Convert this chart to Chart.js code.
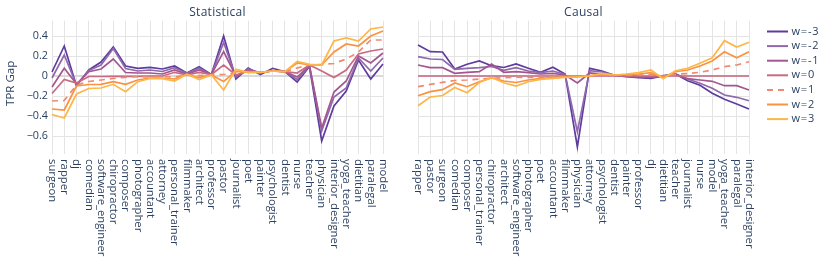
<!DOCTYPE html>
<html><head><meta charset="utf-8">
<script src="https://cdn.jsdelivr.net/npm/chart.js@4/dist/chart.umd.min.js"></script>
<style>
html,body{margin:0;padding:0;background:#fff;}
#wrap{position:relative;width:830px;height:259px;overflow:hidden;}
canvas{position:absolute;left:0;top:0;}
</style></head><body>
<div id="wrap"><canvas id="c1" width="830" height="259"></canvas><canvas id="c2" width="830" height="259"></canvas></div>
<script>
// ---------- data ----------
const statCategories = ['surgeon','rapper','dj','comedian','software_engineer','chiropractor','composer','photographer','accountant','attorney','personal_trainer','filmmaker','architect','professor','pastor','journalist','poet','painter','psychologist','dentist','nurse','teacher','physician','interior_designer','yoga_teacher','dietitian','paralegal','model'];
const causalCategories = ['rapper','pastor','surgeon','comedian','composer','personal_trainer','chiropractor','architect','software_engineer','photographer','poet','accountant','filmmaker','physician','attorney','psychologist','dentist','painter','professor','dj','dietitian','teacher','journalist','nurse','model','yoga_teacher','paralegal','interior_designer'];
const seriesNames = ['w=-3','w=-2','w=-1','w=0','w=1','w=2','w=3'];
const yTickValues = [-0.6,-0.4,-0.2,0,0.2,0.4];

const statWm3 = [0.04,0.30,-0.10,0.06,0.14,0.29,0.10,0.077,0.087,0.07,0.10,0.03,0.093,0.015,0.40,-0.03,0.08,0.015,0.077,0.043,-0.06,0.095,-0.65,-0.30,-0.15,0.16,-0.03,0.12];
const statWm2 = [-0.02,0.21,-0.09,0.055,0.11,0.275,0.075,0.05,0.06,0.045,0.083,0.027,0.077,0.015,0.335,-0.01,0.07,0.03,0.055,0.043,-0.035,0.10,-0.55,-0.21,-0.12,0.18,0.05,0.18];
const statWm1 = [-0.11,0.077,-0.08,0.043,0.07,0.17,0.035,0.03,0.03,0.02,0.06,0.017,0.06,0.015,0.243,0.0,0.06,0.035,0.05,0.043,-0.01,0.105,-0.52,-0.16,-0.05,0.20,0.13,0.23];
const statW0  = [-0.175,-0.035,-0.07,-0.005,-0.005,-0.003,-0.003,-0.003,0.0,0.0,0.037,0.01,0.037,0.015,0.11,0.01,0.05,0.037,0.05,0.043,0.03,0.11,0.05,-0.015,0.06,0.22,0.25,0.27];
const statW1  = [-0.25,-0.245,-0.09,-0.055,-0.04,-0.025,-0.013,-0.007,-0.01,-0.005,-0.01,0.01,0.003,0.01,0.015,0.03,0.043,0.037,0.05,0.043,0.08,0.11,0.115,0.125,0.17,0.24,0.36,0.36];
const statW2  = [-0.33,-0.34,-0.10,-0.085,-0.083,-0.057,-0.083,-0.04,-0.02,-0.02,-0.03,0.015,-0.017,0.01,-0.055,0.047,0.037,0.037,0.05,0.043,0.13,0.11,0.11,0.24,0.32,0.30,0.40,0.45];
const statW3  = [-0.385,-0.42,-0.18,-0.125,-0.12,-0.083,-0.157,-0.057,-0.025,-0.027,-0.05,0.017,-0.035,0.01,-0.14,0.067,0.037,0.037,0.05,0.043,0.145,0.117,0.11,0.35,0.38,0.35,0.47,0.49];

const causWm3 = [0.31,0.243,0.24,0.07,0.117,0.15,0.103,0.085,0.12,0.077,0.037,0.087,0.02,-0.71,0.077,0.05,0.007,-0.007,-0.017,-0.023,0.0,0.02,-0.047,-0.093,-0.173,-0.233,-0.28,-0.33];
const causWm2 = [0.193,0.17,0.165,0.067,0.077,0.083,0.095,0.057,0.083,0.05,0.033,0.05,0.015,-0.557,0.053,0.04,0.01,-0.003,-0.01,-0.015,0.0,0.02,-0.03,-0.073,-0.123,-0.19,-0.213,-0.247];
const causWm1 = [0.11,0.083,0.083,0.027,0.037,0.043,0.12,0.037,0.043,0.033,0.02,0.027,0.01,-0.07,0.03,0.02,0.01,0.0,-0.005,-0.01,0.003,0.015,-0.027,-0.04,-0.053,-0.097,-0.097,-0.14];
const causW0  = [0,0,0,0,0,0,0,0,0,0,0,0,0,0,0,0,0,0,0,0,0,0,0,0,0,0,0,0];
const causW1  = [-0.107,-0.083,-0.063,-0.045,-0.04,-0.03,-0.022,-0.018,-0.012,-0.015,-0.012,-0.008,-0.005,-0.003,0.003,0.008,0.01,0.007,0.01,0.015,-0.003,0.017,0.025,0.037,0.06,0.093,0.11,0.143];
const causW2  = [-0.197,-0.157,-0.137,-0.07,-0.107,-0.057,-0.02,-0.05,-0.065,-0.04,-0.023,-0.017,-0.01,-0.007,0.003,0.013,0.01,0.013,0.02,0.033,-0.013,0.043,0.06,0.10,0.15,0.243,0.183,0.243];
const causW3  = [-0.297,-0.21,-0.195,-0.115,-0.167,-0.065,-0.015,-0.067,-0.1,-0.057,-0.033,-0.023,-0.013,-0.01,0.0,0.027,0.01,0.02,0.033,0.06,-0.027,0.053,0.077,0.127,0.183,0.353,0.29,0.337];

// ---------- styles ----------
const colors = ['#5d3c9e','#8f68ad','#a3578f','#c96a82','#ee8a74','#fb9241','#fdb647'];
const FONT = '"Open Sans", sans-serif';
const TXT = '#2a3f5f';

function buildDatasets(list) {
  return list.map((d, i) => ({
    label: seriesNames[i],
    data: d,
    borderColor: colors[i],
    backgroundColor: colors[i],
    borderWidth: 1.7,
    borderDash: seriesNames[i] === 'w=1' ? [6,5] : [],
    pointRadius: 0,
    tension: 0,
    fill: false,
    order: 6 - i
  }));
}

const overlay = {
  id: 'overlay',
  afterDraw(chart, args, o) {
    const ctx = chart.ctx, ca = chart.chartArea, xs = chart.scales.x;
    ctx.save();
    ctx.fillStyle = TXT;
    // title
    ctx.font = '12px ' + FONT;
    ctx.textAlign = 'center'; ctx.textBaseline = 'middle';
    ctx.letterSpacing = '0.3px';
    ctx.fillText(o.title, (ca.left + ca.right) / 2, 12.5);
    ctx.letterSpacing = '0px';
    // rotated category labels
    ctx.font = '11.3px ' + FONT;
    ctx.textAlign = 'left'; ctx.textBaseline = 'middle';
    chart.data.labels.forEach((lab, i) => {
      const x = xs.getPixelForTick(i);
      ctx.save();
      ctx.translate(x, ca.bottom + 5);
      ctx.rotate(Math.PI / 2);
      ctx.fillText(lab, 0, 0);
      ctx.restore();
    });
    if (o.yTitle) {
      ctx.save();
      ctx.font = '11.5px ' + FONT;
      ctx.translate(11, (ca.top + ca.bottom) / 2 - 4);
      ctx.rotate(-Math.PI / 2);
      ctx.textAlign = 'center'; ctx.textBaseline = 'middle';
      ctx.fillText(o.yTitle, 0, 0);
      ctx.restore();
    }
    if (o.legend) {
      chart.data.datasets.forEach((ds, i) => {
        const y = 31.5 + i * 14.6;
        ctx.save();
        ctx.strokeStyle = ds.borderColor; ctx.lineWidth = 2;
        ctx.setLineDash(ds.borderDash || []);
        ctx.beginPath(); ctx.moveTo(767, y); ctx.lineTo(788, y); ctx.stroke();
        ctx.restore();
        ctx.font = '11px ' + FONT;
        ctx.letterSpacing = '0.8px';
        ctx.textAlign = 'left'; ctx.textBaseline = 'middle';
        ctx.fillText(ds.label, 791.5, y);
        ctx.letterSpacing = '0px';
      });
    }
    ctx.restore();
  }
};

function makeChart(id, labels, data, cfg) {
  return new Chart(document.getElementById(id), {
    type: 'line',
    data: { labels: labels, datasets: buildDatasets(data) },
    options: {
      responsive: false, animation: false, devicePixelRatio: 1,
      layout: { padding: { left: cfg.padLeft, right: cfg.padRight, top: 20.7, bottom: 0 } },
      plugins: { legend: { display: false }, tooltip: { enabled: false }, overlay: cfg.overlay },
      scales: {
        x: {
          type: 'category', offset: false,
          grid: { color: '#e4e4e4', lineWidth: 1, drawTicks: false },
          border: { display: false },
          ticks: { display: false },
          afterFit(s) { s.height = 105; }
        },
        y: {
          min: -0.78, max: 0.553,
          afterBuildTicks(s) { s.ticks = yTickValues.map(v => ({ value: v })); },
          grid: {
            drawTicks: false,
            color: c => (c.tick && c.tick.value === 0) ? '#dadada' : '#e4e4e4',
            lineWidth: c => (c.tick && c.tick.value === 0) ? 2 : 1
          },
          border: { display: false },
          ticks: {
            display: cfg.showY, padding: 4, color: TXT,
            font: { family: FONT, size: 10.8 },
            callback: v => v === 0 ? '0' : (v < 0 ? '\u2212' : '') + Math.abs(v).toFixed(1)
          },
          afterFit(s) { s.width = cfg.yWidth; }
        }
      }
    },
    plugins: [overlay]
  });
}

makeChart('c1', statCategories, [statWm3, statWm2, statWm1, statW0, statW1, statW2, statW3],
  { padLeft: 0, padRight: 830 - 383, yWidth: 52, showY: true, overlay: { title: 'Statistical', yTitle: 'TPR Gap' } });
makeChart('c2', causalCategories, [causWm3, causWm2, causWm1, causW0, causW1, causW2, causW3],
  { padLeft: 418, padRight: 830 - 749, yWidth: 0, showY: false, overlay: { title: 'Causal', legend: true } });
</script>
</body></html>
